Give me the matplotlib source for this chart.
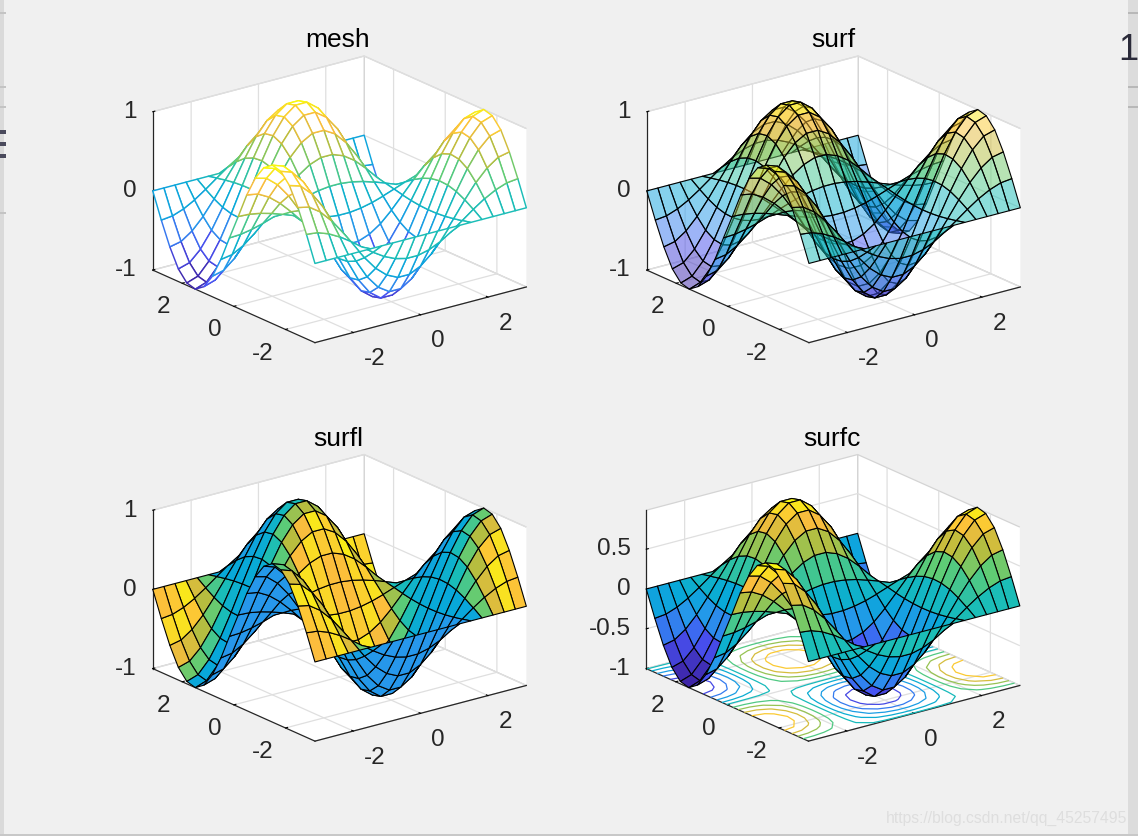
import matplotlib
matplotlib.use("Agg")
import matplotlib.pyplot as plt
import numpy as np
from matplotlib.colors import LinearSegmentedColormap
from matplotlib.patches import Rectangle

plt.rcParams['font.family'] = ['Liberation Sans', 'DejaVu Sans']
plt.rcParams['axes.unicode_minus'] = False

# surface: heights along the x edge and along the y edge
x_grid = [-3.14, -2.81, -2.48, -2.15, -1.82, -1.49, -1.16, -0.83, -0.50, -0.17,
          0.17, 0.50, 0.83, 1.16, 1.49, 1.82, 2.15, 2.48, 2.81, 3.14]
y_grid = x_grid
x_profile = [-1.0, -0.95, -0.79, -0.55, -0.25, 0.08, 0.40, 0.68, 0.88, 0.99,
             0.99, 0.88, 0.68, 0.40, 0.08, -0.25, -0.55, -0.79, -0.95, -1.0]
y_profile = [0.0, -0.32, -0.61, -0.84, -0.97, -1.0, -0.92, -0.74, -0.48, -0.16,
             0.16, 0.48, 0.74, 0.92, 1.0, 0.97, 0.84, 0.61, 0.32, 0.0]

titles = ['mesh', 'surf', 'surfl', 'surfc']
xy_ticks = [-2, 0, 2]
z_ticks = [-1, 0, 1]
surfc_z_ticks = [-1, -0.5, 0, 0.5]
surfc_z_labels = ['-1', '-0.5', '0', '0.5']
contour_levels = [-0.8, -0.6, -0.4, -0.2, -0.03, 0.2, 0.4, 0.6, 0.8]

parula_colors = [(0.2422, 0.1504, 0.6603), (0.2810, 0.3228, 0.9579),
                 (0.1540, 0.5902, 0.9218), (0.0300, 0.6600, 0.8500),
                 (0.1000, 0.7400, 0.7200), (0.3700, 0.8000, 0.4600),
                 (0.7300, 0.7400, 0.2400), (0.9900, 0.7400, 0.2400),
                 (0.9700, 0.9800, 0.0500)]
parula = LinearSegmentedColormap.from_list('parula', parula_colors)

# lit colour lookup for surfl: tilt towards the light -> colormap position
light_dir = [-0.10, -0.93, 0.35]
tilt_knots = [-0.3, 0.12, 0.35, 0.50, 0.64, 0.74, 0.82, 0.90]
color_knots = [0.25, 0.27, 0.40, 0.58, 0.72, 0.80, 0.98, 0.87]

W, H = 1138, 837
X, Y = np.meshgrid(x_grid, y_grid)
Z = np.outer(y_profile, x_profile)


def z_colors(alpha=1.0):
    # flat shading takes the colour of the cell's first corner
    c = parula((Z[:-1, :-1] + 1) / 2)
    c[..., 3] = alpha
    return c


def lit_colors():
    zy, zx = np.gradient(Z, y_grid, x_grid)
    n = np.sqrt(zx ** 2 + zy ** 2 + 1)
    tilt = (-zx * light_dir[0] - zy * light_dir[1] + light_dir[2]) / n
    return parula(np.interp(tilt[:-1, :-1], tilt_knots, color_knots))


def make_axes(fig, cx, cy):
    # plot box in pixels, stretched like a MATLAB subplot
    bw, bh = 448, 307.5
    ax = fig.add_axes([(cx - bw / 2) / W, 1 - (cy + bh / 2) / H, bw / W, bh / H],
                      projection='3d', computed_zorder=False)
    ax.apply_aspect = lambda position=None: None
    ax.set_proj_type('ortho')
    ax.view_init(elev=30, azim=-127.5)
    ax.set_box_aspect((1, 1, 1))
    ax.patch.set_alpha(0)
    ax.set_xlim(-3.14, 3.14)
    ax.set_ylim(-3.14, 3.14)
    ax.set_zlim(-1, 1)
    ax.set_xticks(xy_ticks)
    ax.set_yticks(xy_ticks)
    ax.set_zticks(z_ticks)
    for axis in [ax.xaxis, ax.yaxis, ax.zaxis]:
        axis.set_pane_color('white')
        axis.pane.set_edgecolor('#d4d4d4')
        axis.pane.set_linewidth(0.9)
        axis.line.set_color('#262626')
        axis.line.set_linewidth(0.9)
        axis._axinfo['grid'].update(color='#dfdfdf', linewidth=0.9)
        axis._axinfo['tick'].update(inward_factor=0.0, outward_factor=0.12)
        axis._axinfo['tick']['linewidth'] = {True: 0.8, False: 0.5}
        axis._axinfo['tick']['color'] = '#262626'
    ax.zaxis.set_ticks_position('upper')
    ax.tick_params(axis='x', labelsize=17.5, labelcolor='#262626', pad=1)
    ax.tick_params(axis='y', labelsize=17.5, labelcolor='#262626', pad=0)
    ax.tick_params(axis='z', labelsize=17.5, labelcolor='#262626', pad=-2)
    return ax


def align_tick_labels(ax):
    for t in ax.xaxis.get_major_ticks():
        t.label1.set_ha('left')
    for t in ax.yaxis.get_major_ticks():
        t.label1.set_ha('right')
    for t in ax.zaxis.get_major_ticks():
        t.label1.set_ha('right')
        t.label1.set_va('center')


fig = plt.figure(figsize=(W / 100, H / 100), dpi=100, facecolor='#f0f0f0')

centers = [(333.5, 204.5), (827.5, 204.5), (333.5, 603), (827, 603)]
title_pos = [(338, 40), (833, 40), (338, 439), (832, 439)]
axes = [make_axes(fig, cx, cy) for cx, cy in centers]

mesh = axes[0].plot_surface(X, Y, Z, rstride=1, cstride=1, shade=False,
                            facecolors=np.ones(Z[1:, 1:].shape + (4,)), linewidth=1.05)
mesh.set_edgecolor(z_colors().reshape(-1, 4))

surf = axes[1].plot_surface(X, Y, Z, rstride=1, cstride=1, shade=False,
                            facecolors=z_colors(0.5), linewidth=0.8)
surf.set_edgecolor('black')

surfl = axes[2].plot_surface(X, Y, Z, rstride=1, cstride=1, shade=False,
                             facecolors=lit_colors(), linewidth=0.8)
surfl.set_edgecolor('black')

axes[3].contour(X, Y, Z, levels=contour_levels, zdir='z', offset=-1, cmap=parula,
                vmin=-1, vmax=1, linewidths=0.9, zorder=1)
surfc = axes[3].plot_surface(X, Y, Z, rstride=1, cstride=1, shade=False,
                             facecolors=z_colors(), linewidth=0.8, zorder=2)
surfc.set_edgecolor('black')
axes[3].set_zlim(-1, 0.99)
axes[3].set_zticks(surfc_z_ticks)
axes[3].set_zticklabels(surfc_z_labels)

for ax in axes:
    align_tick_labels(ax)

for (tx, ty), title in zip(title_pos, titles):
    fig.text(tx / W, 1 - ty / H, title, ha='center', va='center', fontsize=19, color='black')

# bits of the screenshot around the figure window
fig.add_artist(Rectangle((0, 0), 4 / W, 1, transform=fig.transFigure, color='#dadada', lw=0))
fig.add_artist(Rectangle((1128 / W, 0), 10 / W, 1, transform=fig.transFigure, color='#dcdcdc', lw=0))
fig.add_artist(Rectangle((0, 0), 1, 2.5 / H, transform=fig.transFigure, color='#c8c8c8', lw=0))
for y in [14, 88, 108, 214]:
    fig.add_artist(Rectangle((0, 1 - (y + 1) / H), 6 / W, 2 / H, transform=fig.transFigure,
                             color='#c4c4c4', lw=0))
for y in [14, 88, 108]:
    fig.add_artist(Rectangle((1128 / W, 1 - (y + 1) / H), 10 / W, 2 / H, transform=fig.transFigure,
                             color='#b8b8b8', lw=0))
for y in [133, 145, 157]:
    fig.add_artist(Rectangle((0, 1 - (y + 2) / H), 6 / W, 4 / H, transform=fig.transFigure,
                             color='#4a4a5c', lw=0))
fig.text(1138 / W, 1 - 50 / H, '1', fontsize=26, color='#2b2b3a', ha='right', va='center')
fig.text(1127 / W, 1 - 818 / H, 'https://blog.csdn.net/qq_45257495', fontsize=11.3,
         color='#dedede', ha='right', va='center')

fig.savefig('out.png', dpi=100, facecolor=fig.get_facecolor())
